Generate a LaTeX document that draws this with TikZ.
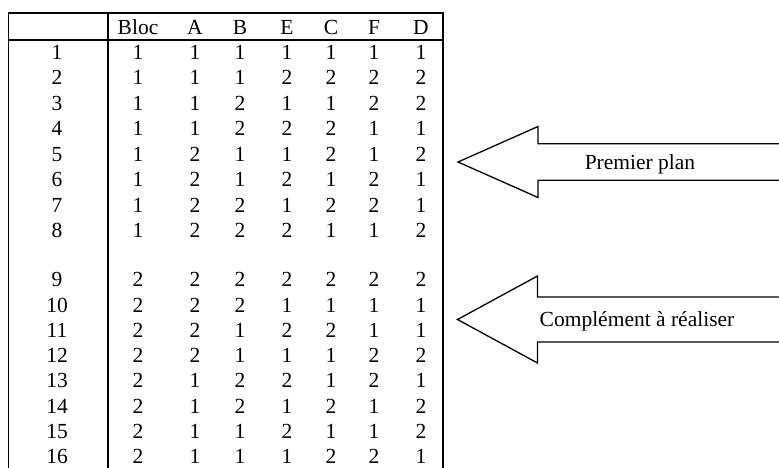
\documentclass[tikz,border=0pt]{standalone}
\usepackage{fontspec}
\setmainfont{Liberation Serif}
\begin{document}
\begin{tikzpicture}[x=1pt,y=-1pt,
  cell/.style={anchor=base,inner sep=0pt,font=\fontsize{21.5}{21.5}\selectfont},
  rule/.style={line width=1.3pt},
  bigarrow/.style={line width=1.3pt,line join=miter}]
\useasboundingbox (0,0) rectangle (779,468);
% table rules
\draw[rule] (8.5,470) -- (8.5,13) -- (443,13) -- (443,470);
\draw[rule] (8.5,40) -- (443,40);
\draw[rule] (108,13) -- (108,470);
% header
\foreach \h/\xx in {Bloc/138,A/195,B/240,E/287,C/331,F/374,D/421}
  \node[cell] (h\h) at (\xx,34.5) {\h};
% rows
\foreach \vals [count=\k] in {
  {1,1,1,1,1,1,1},{1,1,1,2,2,2,2},{1,1,2,1,1,2,2},{1,1,2,2,2,1,1},
  {1,2,1,1,2,1,2},{1,2,1,2,1,2,1},{1,2,2,1,2,2,1},{1,2,2,2,1,1,2},
  {2,2,2,2,2,2,2},{2,2,2,1,1,1,1},{2,2,1,2,2,1,1},{2,2,1,1,1,2,2},
  {2,1,2,2,1,2,1},{2,1,2,1,2,1,2},{2,1,1,2,1,1,2},{2,1,1,1,2,2,1}}{
  \pgfmathsetmacro{\yy}{\k<9 ? 52+(\k-1)*25.5+7.2 : 279.5+(\k-9)*25.3+7.2}
  \node[cell] (r\k) at (57,\yy) {\k};
  \foreach \v [count=\j] in \vals {
    \pgfmathsetmacro{\xx}{{138,195,240,287,331,374,421}[\j-1]}
    \node[cell] (c\k-\j) at (\xx,\yy) {\v};
  }
}
% arrows
\draw[bigarrow] (782,143.7) -- (538,143.7) -- (538,126.5) -- (458,162)
  -- (538,197.5) -- (538,180.3) -- (782,180.3);
\node[cell] (t1) at (640,169.2) {Premier plan};
\draw[bigarrow] (782,297) -- (537.5,297) -- (537.5,276) -- (457.5,319.5)
  -- (537.5,363) -- (537.5,342) -- (782,342);
\node[cell] (t2) at (637,326.7) {Complément à réaliser};
\end{tikzpicture}
\end{document}
